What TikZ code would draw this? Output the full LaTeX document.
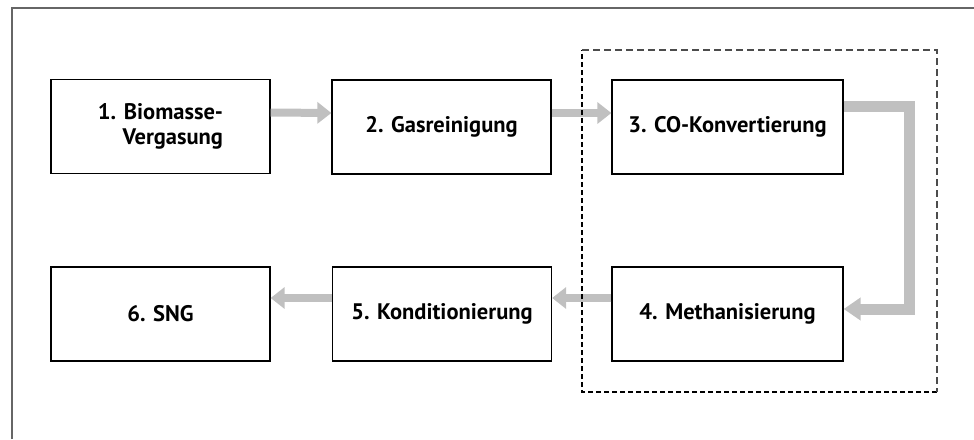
\documentclass[tikz,border=0pt]{standalone}
\usepackage{fontspec}
\setsansfont{PT Sans}
\usepackage{tikz}
\usetikzlibrary{positioning}
\usetikzlibrary{arrows.meta}
\usepackage{xcolor}
\definecolor{flowgray}{HTML}{C0C0C0}
\definecolor{framegray}{HTML}{666666}

\begin{document}
\begin{tikzpicture}[x=1pt, y=-1pt,
			stage/.style={draw=black, line width=1.3pt, minimum width=219pt, minimum height=94pt, inner sep=0pt, font=\sffamily\bfseries\fontsize{22.5}{25}\selectfont},
			stagewide/.style={stage, minimum width=231pt},
			flow/.style={draw=flowgray, line width=8pt, -{Triangle[length=14pt, width=21pt]}},
			flowbend/.style={draw=flowgray, line width=11pt, line join=miter, -{Triangle[length=17pt, width=22pt]}}]
			    		\useasboundingbox (0,0) rectangle (974,439);
			    		\draw[framegray, line width=1.5pt] (12,439)--(12,8)--(974,8);
			    		\node[stage, align=right] (vergasung) at (160.5,126.5) {1. Biomasse-\\Vergasung};
			    		\node[stage] (reinigung) at (441.5,127) {2. Gasreinigung};
			    		\node[stagewide] (konvert) at (727.5,127) {3. CO-Konvertierung};
			    		\node[stagewide] (methan) at (727.5,314) {4. Methanisierung};
			    		\node[stage] (kondition) at (442,314) {5. Konditionierung};
			    		\node[stage] (sng) at (160.5,314) {6. SNG};
			    		\coordinate (knickoben) at (909,106);
			    		\coordinate (knickunten) at (909,309);
			    		\draw[flow] ([yshift=14pt]vergasung.east)--([yshift=14pt]reinigung.west);
			    		\draw[flow] ([yshift=14pt]reinigung.east)--([yshift=14pt]konvert.west);
			    		\draw[flowbend] ([yshift=21pt]konvert.east)--(knickoben)--(knickunten)--([yshift=5pt]methan.east);
			    		\draw[flow] ([yshift=16pt]methan.west)--([yshift=16pt]kondition.east);
			    		\draw[flow] ([yshift=16pt]kondition.west)--([yshift=16pt]sng.east);
			    		\draw[black, line width=2pt, dash pattern=on 5pt off 3pt] (937,392)--(582,392)--(582,50);
			    		\draw[black!70, line width=1.2pt, dash pattern=on 7pt off 4pt] (582,50)--(937,50)--(937,392);
			    	\end{tikzpicture}
\end{document}
